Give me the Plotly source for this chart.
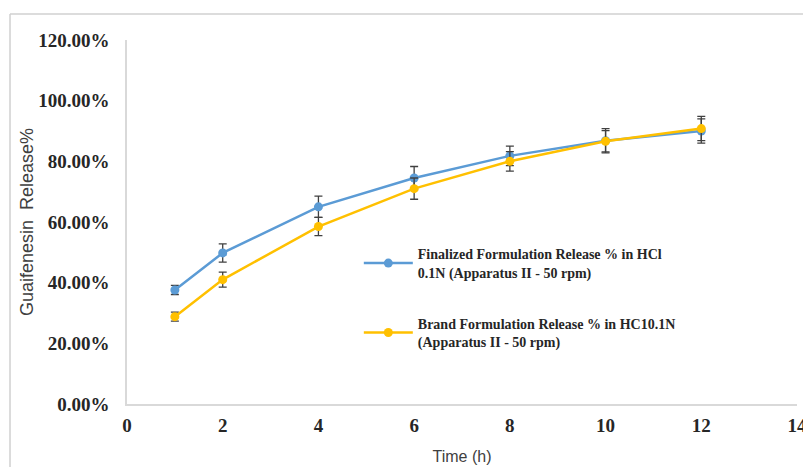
import plotly.graph_objects as go

time_h = [1, 2, 4, 6, 8, 10, 12]
finalized = [37.6, 49.8, 65.0, 74.5, 81.8, 86.8, 90.0]
finalized_err = [1.5, 3.0, 3.5, 3.8, 3.2, 4.0, 4.0]
brand = [28.8, 41.0, 58.5, 71.0, 80.0, 86.6, 90.8]
brand_err = [1.5, 2.5, 3.0, 3.5, 3.2, 3.5, 4.0]

name_finalized = "Finalized Formulation Release % in HCl<br>0.1N (Apparatus II - 50 rpm)"
name_brand = "Brand Formulation Release % in HC10.1N<br>(Apparatus II - 50 rpm)"

x_ticks = [0, 2, 4, 6, 8, 10, 12, 14]
y_ticks = [0, 20, 40, 60, 80, 100, 120]
y_tick_text = ["%.2f%%" % v for v in y_ticks]

fig = go.Figure()
fig.add_trace(go.Scatter(
    x=time_h, y=finalized, name=name_finalized, mode="lines+markers", legendgroup="a",
    line=dict(color="#5B9BD5", width=2.5),
    marker=dict(color="#5B9BD5", size=9, symbol="circle"),
    error_y=dict(type="data", array=finalized_err, color="#404040", thickness=1.3, width=4),
))
fig.add_trace(go.Scatter(
    x=time_h, y=brand, name=name_brand, mode="lines+markers", legendgroup="b",
    line=dict(color="#FFC000", width=2.5),
    marker=dict(color="#FFC000", size=9, symbol="circle"),
    error_y=dict(type="data", array=brand_err, color="#404040", thickness=1.3, width=4),
))

border = dict(color="#D0D0D0", width=1.5)
fig.update_layout(
    width=811, height=467,
    margin=dict(l=119, r=22, t=32, b=71),
    paper_bgcolor="white", plot_bgcolor="white",
    showlegend=True,
    legend=dict(
        x=0.346, y=0.455, xanchor="left", yanchor="top",
        font=dict(family="Liberation Serif", size=14, color="#262626", weight="bold"),
        bgcolor="rgba(0,0,0,0)", tracegroupgap=30, itemwidth=49,
    ),
    xaxis=dict(
        range=[0, 14], tickmode="array", tickvals=x_ticks, automargin=False,
        showgrid=False, zeroline=False, showline=True, linecolor="#D9D9D9", linewidth=1.5,
        ticks="", ticklabelstandoff=3,
        tickfont=dict(family="Liberation Serif", size=19, color="#262626", weight="bold"),
        title=dict(text="Time (h)", font=dict(family="Liberation Sans", size=16, color="#404040"), standoff=16),
    ),
    yaxis=dict(
        range=[0, 120], tickmode="array", tickvals=y_ticks, ticktext=y_tick_text, automargin=False,
        showgrid=False, zeroline=False, showline=True, linecolor="#D9D9D9", linewidth=1.5,
        ticks="", ticklabelstandoff=12,
        tickfont=dict(family="Liberation Serif", size=19, color="#262626", weight="bold"),
        title=dict(text="Guaifenesin  Release%", font=dict(family="Liberation Sans", size=18, color="#404040"), standoff=0),
    ),
    shapes=[
        dict(type="line", xref="paper", yref="paper", x0=-0.1746, x1=-0.1746, y0=-0.2, y1=1.0714, line=border),
        dict(type="line", xref="paper", yref="paper", x0=-0.1746, x1=1.1, y0=1.0714, y1=1.0714, line=border),
    ],
)

fig.write_html("out.html")
